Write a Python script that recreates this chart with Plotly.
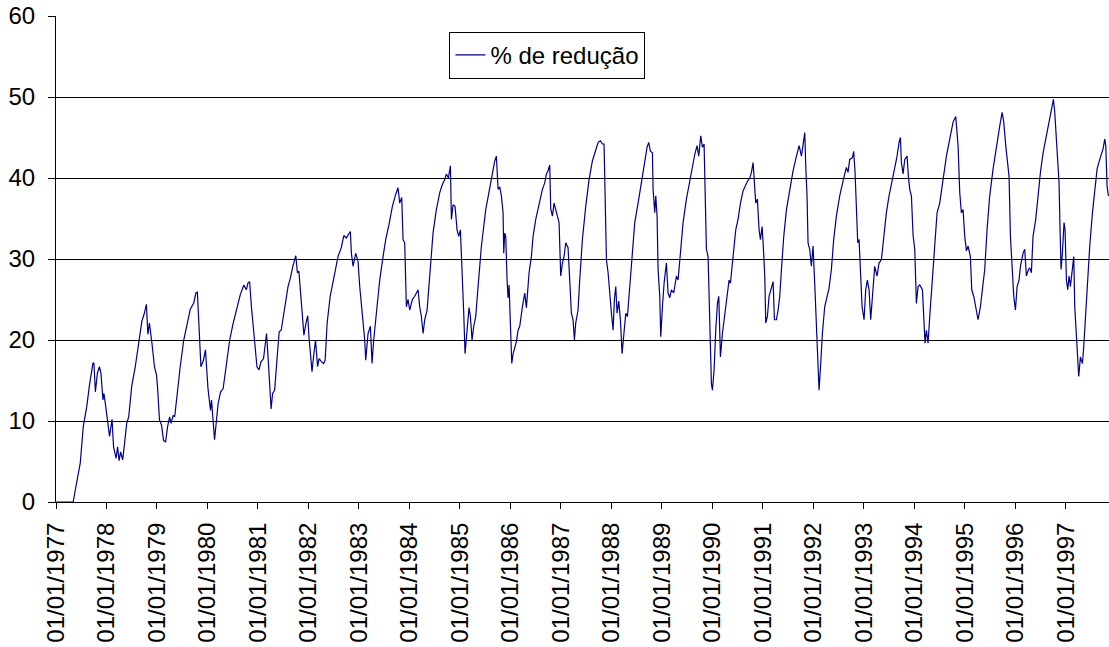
import pandas as pd
import plotly.graph_objects as go

# Series "% de redução": decimal years and values, by period
anos_77_79 = [
    1977.00, 1977.34, 1977.40, 1977.48, 1977.54, 1977.61, 1977.66, 1977.73, 1977.75, 1977.78,
    1977.82, 1977.86, 1977.89, 1977.93, 1977.95, 1977.99, 1978.02, 1978.06, 1978.11, 1978.14,
    1978.19, 1978.22, 1978.25, 1978.28, 1978.32, 1978.35, 1978.40, 1978.44, 1978.50, 1978.57,
    1978.64, 1978.70, 1978.75, 1978.79, 1978.82, 1978.85, 1978.90, 1978.95, 1978.99, 1979.01,
    1979.05, 1979.09, 1979.13, 1979.17, 1979.21, 1979.25, 1979.28, 1979.32, 1979.35, 1979.40,
    1979.46, 1979.53, 1979.60, 1979.66, 1979.73, 1979.77, 1979.80, 1979.83, 1979.87, 1979.92,
    1979.96,
]
valores_77_79 = [
    0.0, 0.0, 2.1, 4.8, 9.3, 11.8, 14.3, 17.1, 17.2, 13.6,
    15.9, 16.7, 15.9, 12.6, 13.4, 11.8, 10.1, 8.1, 10.2, 6.8,
    5.4, 6.8, 5.1, 6.2, 5.2, 6.8, 9.7, 10.5, 14.3, 16.7,
    19.8, 22.3, 23.3, 24.4, 20.7, 22.1, 19.6, 16.7, 15.7, 14.3,
    10.1, 9.5, 7.6, 7.4, 9.3, 10.5, 9.7, 10.7, 10.5, 13.4,
    16.7, 20.0, 22.1, 23.8, 24.6, 25.8, 25.9, 21.3, 16.7, 17.5,
    18.8,
]

anos_80_82 = [
    1980.01, 1980.06, 1980.08, 1980.14, 1980.21, 1980.26, 1980.31, 1980.36, 1980.44, 1980.51,
    1980.585, 1980.65, 1980.72, 1980.77, 1980.80, 1980.835, 1980.87, 1980.90, 1980.935, 1980.98,
    1981.02, 1981.06, 1981.11, 1981.15, 1981.17, 1981.20, 1981.23, 1981.26, 1981.29, 1981.33,
    1981.38, 1981.42, 1981.46, 1981.53, 1981.595, 1981.64, 1981.69, 1981.75, 1981.78, 1981.81,
    1981.84, 1981.87, 1981.91, 1981.945, 1981.985, 1982.01, 1982.045, 1982.07, 1982.10, 1982.14,
    1982.18, 1982.21, 1982.26, 1982.30, 1982.33, 1982.37, 1982.43, 1982.49, 1982.54, 1982.585,
    1982.65, 1982.70, 1982.75, 1982.79, 1982.83,
]
valores_80_82 = [
    14.0, 11.3, 12.6, 7.7, 12.1, 13.6, 14.0, 16.3, 20.0, 22.1,
    24.1, 25.6, 26.8, 26.2, 27.0, 27.2, 24.1, 21.9, 19.2, 16.7,
    16.3, 17.3, 17.7, 20.0, 20.8, 17.9, 15.0, 11.5, 13.4, 13.8,
    17.9, 21.0, 21.2, 24.1, 26.6, 27.6, 29.1, 30.4, 28.3, 28.5,
    26.2, 23.1, 20.6, 21.9, 23.0, 20.4, 17.9, 16.1, 17.9, 20.0,
    16.7, 17.7, 17.3, 17.1, 17.5, 22.1, 25.4, 27.4, 28.9, 30.3,
    31.4, 32.9, 32.6, 33.0, 33.4,
]

anos_83_85 = [
    1982.85, 1982.883, 1982.936, 1982.982, 1983.015, 1983.068, 1983.114, 1983.134, 1983.18, 1983.226,
    1983.259, 1983.292, 1983.345, 1983.411, 1983.477, 1983.53, 1983.596, 1983.662, 1983.728, 1983.774,
    1983.807, 1983.847, 1983.873, 1983.906, 1983.939, 1983.972, 1984.005, 1984.058, 1984.104, 1984.17,
    1984.203, 1984.236, 1984.27, 1984.302, 1984.349, 1984.401, 1984.467, 1984.533, 1984.60, 1984.652,
    1984.699, 1984.731, 1984.771, 1984.811, 1984.831, 1984.864, 1984.903, 1984.943, 1984.976, 1985.009,
    1985.035, 1985.075, 1985.101, 1985.141, 1985.18, 1985.207, 1985.24, 1985.273, 1985.313, 1985.359,
    1985.425, 1985.511, 1985.577, 1985.643, 1985.689, 1985.722, 1985.755, 1985.788,
]
valores_83_85 = [
    30.7, 29.1, 30.7, 29.7, 26.6, 23.3, 20.0, 17.5, 20.8, 21.7,
    17.1, 20.0, 23.3, 27.4, 30.3, 32.4, 34.3, 36.5, 38.0, 38.8,
    36.9, 37.6, 32.4, 32.0, 24.1, 25.0, 23.7, 25.0, 25.4, 26.2,
    24.1, 22.9, 20.8, 22.5, 23.7, 27.9, 33.2, 36.1, 38.2, 39.2,
    39.8, 40.5, 40.0, 41.5, 34.9, 36.7, 36.5, 33.6, 32.8, 33.6,
    29.9, 23.3, 18.3, 21.7, 24.0, 22.9, 20.0, 21.7, 22.9, 26.6,
    31.6, 36.1, 38.4, 40.7, 42.1, 42.7, 38.6, 38.9,
]

anos_86_88 = [
    1985.821, 1985.854, 1985.867, 1985.887, 1985.907, 1985.933, 1985.953, 1985.973, 1985.999, 1986.026,
    1986.052, 1986.085, 1986.118, 1986.151, 1986.184, 1986.237, 1986.283, 1986.316, 1986.369, 1986.415,
    1986.448, 1986.501, 1986.567, 1986.633, 1986.679, 1986.712, 1986.745, 1986.778, 1986.798, 1986.831,
    1986.864, 1986.897, 1986.924, 1986.963, 1986.996, 1987.029, 1987.062, 1987.095, 1987.141, 1987.174,
    1987.207, 1987.24, 1987.267, 1987.293, 1987.339, 1987.372, 1987.425, 1987.491, 1987.557, 1987.623,
    1987.689, 1987.736, 1987.782, 1987.821, 1987.854, 1987.874, 1987.901, 1987.934, 1987.967, 1988.0,
    1988.033, 1988.059, 1988.086, 1988.112, 1988.145, 1988.178, 1988.211, 1988.244, 1988.284, 1988.317,
    1988.363, 1988.416, 1988.462, 1988.528, 1988.594, 1988.66, 1988.706, 1988.739, 1988.772, 1988.812,
    1988.825, 1988.858,
]
valores_86_88 = [
    37.8, 35.7, 30.7, 33.2, 32.8, 27.4, 25.2, 26.8, 20.8, 17.1,
    18.3, 19.2, 19.8, 21.2, 21.7, 24.1, 25.8, 24.0, 28.3, 30.3,
    32.8, 34.9, 36.7, 38.6, 39.4, 40.5, 40.9, 41.6, 36.2, 35.3,
    36.9, 36.1, 35.1, 34.5, 27.9, 29.5, 30.3, 32.0, 31.4, 27.4,
    23.3, 22.5, 20.0, 22.1, 23.7, 27.4, 32.4, 36.5, 39.8, 42.1,
    43.6, 44.4, 44.6, 44.2, 44.2, 39.4, 29.9, 28.3, 25.4, 23.3,
    21.2, 25.0, 26.6, 23.3, 24.8, 22.5, 18.3, 20.8, 23.3, 22.9,
    26.6, 30.7, 34.5, 36.9, 39.4, 41.9, 43.8, 44.4, 43.3, 43.1,
    38.6, 35.7,
]

anos_89_91 = [
    1988.878, 1988.904, 1988.924, 1988.957, 1988.977, 1989.01, 1989.043, 1989.089, 1989.122, 1989.155,
    1989.188, 1989.234, 1989.287, 1989.32, 1989.366, 1989.419, 1989.485, 1989.551, 1989.604, 1989.65,
    1989.696, 1989.729, 1989.769, 1989.802, 1989.835, 1989.855, 1989.881, 1989.914, 1989.947, 1989.98,
    1990.0, 1990.033, 1990.066, 1990.099, 1990.126, 1990.159, 1990.198, 1990.244, 1990.291, 1990.33,
    1990.357, 1990.409, 1990.462, 1990.508, 1990.555, 1990.607, 1990.654, 1990.693, 1990.74, 1990.773,
    1990.806, 1990.825, 1990.858, 1990.891, 1990.924, 1990.951, 1990.984, 1991.004, 1991.037, 1991.056,
    1991.089, 1991.122, 1991.169, 1991.202, 1991.228, 1991.268, 1991.301, 1991.334, 1991.367, 1991.413,
    1991.466, 1991.532, 1991.598, 1991.664, 1991.717, 1991.763, 1991.796, 1991.829,
]
valores_89_91 = [
    37.8, 35.3, 28.7, 25.4, 20.4, 24.1, 27.0, 29.5, 25.8, 25.2,
    26.2, 25.8, 27.9, 27.4, 30.7, 34.5, 37.4, 39.8, 41.5, 42.9,
    44.0, 42.7, 45.2, 43.8, 44.2, 39.4, 31.2, 30.3, 22.9, 14.6,
    13.8, 16.3, 21.2, 24.5, 25.4, 17.9, 20.8, 23.3, 25.4, 27.4,
    27.0, 30.3, 33.6, 34.9, 36.9, 38.4, 39.2, 39.6, 40.0, 40.7,
    41.9, 39.8, 36.9, 37.4, 33.6, 32.4, 34.0, 32.0, 27.9, 22.1,
    22.9, 25.4, 26.4, 27.2, 22.5, 22.5, 23.7, 25.4, 28.7, 32.8,
    36.1, 38.6, 40.9, 42.7, 44.0, 42.7, 44.2, 45.6,
]

anos_92_94 = [
    1991.848, 1991.874, 1991.894, 1991.927, 1991.96, 1991.993, 1992.026, 1992.059, 1992.092, 1992.112,
    1992.145, 1992.178, 1992.224, 1992.270, 1992.31, 1992.356, 1992.402, 1992.455, 1992.521, 1992.587,
    1992.653, 1992.686, 1992.719, 1992.772, 1992.798, 1992.825, 1992.851, 1992.878, 1992.904, 1992.937,
    1992.964, 1993.003, 1993.036, 1993.069, 1993.102, 1993.135, 1993.168, 1993.214, 1993.261, 1993.3,
    1993.346, 1993.393, 1993.445, 1993.498, 1993.551, 1993.611, 1993.657, 1993.696, 1993.723, 1993.743,
    1993.776, 1993.809, 1993.855, 1993.881, 1993.908, 1993.941, 1993.974, 1994.007, 1994.04, 1994.073,
    1994.106, 1994.159, 1994.185, 1994.211, 1994.238, 1994.271, 1994.304, 1994.357, 1994.403, 1994.449,
    1994.502, 1994.568, 1994.634, 1994.70,
]
valores_92_94 = [
    41.5, 37.8, 32.0, 31.2, 29.1, 31.6, 27.0, 22.1, 16.7, 13.8,
    17.1, 20.8, 24.1, 25.4, 26.4, 28.7, 32.4, 35.3, 37.8, 39.6,
    41.3, 40.7, 42.3, 42.5, 43.3, 40.7, 36.1, 32.0, 32.4, 27.9,
    24.1, 22.5, 26.2, 27.4, 26.2, 22.5, 25.8, 29.1, 27.9, 29.5,
    29.9, 32.8, 35.7, 37.8, 39.4, 41.1, 42.7, 44.4, 45.0, 41.9,
    40.5, 42.3, 42.7, 40.2, 38.6, 37.8, 32.9, 31.2, 24.5, 26.6,
    26.8, 26.2, 22.1, 19.6, 21.2, 19.6, 22.9, 27.9, 32.4, 35.7,
    36.9, 40.0, 42.7, 44.8,
]

anos_95_97 = [
    1994.733, 1994.766, 1994.819, 1994.845, 1994.865, 1994.898, 1994.931, 1994.964, 1994.997, 1995.03,
    1995.063, 1995.109, 1995.136, 1995.175, 1995.215, 1995.261, 1995.307, 1995.36, 1995.393, 1995.439,
    1995.492, 1995.558, 1995.624, 1995.69, 1995.737, 1995.77, 1995.809, 1995.836, 1995.875, 1995.902,
    1995.928, 1995.968, 1996.001, 1996.034, 1996.073, 1996.1, 1996.152, 1996.185, 1996.218, 1996.258,
    1996.284, 1996.317, 1996.35, 1996.403, 1996.45, 1996.496, 1996.549, 1996.601, 1996.648, 1996.681,
    1996.714, 1996.753, 1996.78, 1996.813, 1996.846, 1996.865, 1996.885, 1996.905, 1996.931, 1996.964,
    1996.984, 1997.011, 1997.037, 1997.064, 1997.09, 1997.123, 1997.156, 1997.176, 1997.209, 1997.235,
    1997.255, 1997.288, 1997.328, 1997.354, 1997.387, 1997.427, 1997.473, 1997.526, 1997.572, 1997.618,
    1997.671, 1997.704, 1997.737, 1997.77, 1997.79, 1997.816, 1997.843,
]
valores_95_97 = [
    46.0, 46.9, 47.6, 46.0, 44.0, 38.2, 35.7, 36.1, 32.8, 31.0,
    31.6, 30.3, 26.2, 25.4, 24.1, 22.5, 24.1, 26.6, 28.7, 33.6,
    37.8, 41.1, 44.0, 46.4, 48.1, 46.9, 44.0, 42.3, 40.2, 32.8,
    29.1, 25.4, 23.7, 26.6, 27.4, 29.1, 30.7, 31.2, 27.9, 28.7,
    28.9, 28.3, 32.8, 34.9, 37.8, 40.7, 43.1, 44.8, 46.4, 47.7,
    48.7, 49.7, 48.1, 45.2, 41.9, 39.4, 33.6, 28.7, 30.7, 34.5,
    33.6, 27.4, 26.2, 27.9, 26.6, 28.3, 30.3, 24.1, 20.8, 17.1,
    15.5, 17.9, 17.1, 19.2, 22.5, 27.4, 31.6, 35.7, 38.6, 41.1,
    42.3, 43.1, 43.6, 44.8, 44.0, 39.0, 37.8,
]

anos_todos = anos_77_79 + anos_80_82 + anos_83_85 + anos_86_88 + anos_89_91 + anos_92_94 + anos_95_97
valores = (valores_77_79 + valores_80_82 + valores_83_85 + valores_86_88
           + valores_89_91 + valores_92_94 + valores_95_97)

inicio = pd.Timestamp("1977-01-01")
datas = [inicio + pd.to_timedelta((a - 1977.0) * 365.25, unit="D") for a in anos_todos]

tick_anos = list(range(1977, 1998))
tick_vals = [pd.Timestamp(f"{a}-01-01") for a in tick_anos]
tick_text = [f"01/01/{a}" for a in tick_anos]

FONT = "Liberation Sans, Arial, sans-serif"

fig = go.Figure()
fig.add_trace(go.Scatter(
    x=datas, y=valores, mode="lines", name="% de redução",
    line=dict(color="#000080", width=1.2),
))

fig.update_layout(
    width=1109, height=647,
    margin=dict(l=56, r=0, t=16, b=145, autoexpand=False),
    paper_bgcolor="white", plot_bgcolor="white",
    font=dict(family=FONT, size=24, color="black"),
    showlegend=True,
    legend=dict(
        x=0.3736, y=0.9677, xanchor="left", yanchor="top",
        bgcolor="white", bordercolor="black", borderwidth=1,
        font=dict(family=FONT, size=24, color="black"),
        itemwidth=30, tracegroupgap=0,
    ),
)

fig.update_xaxes(
    type="date",
    range=[pd.Timestamp("1977-01-01"), pd.Timestamp("1997-11-09")],
    tickmode="array", tickvals=tick_vals, ticktext=tick_text,
    tickangle=-90, ticks="outside", ticklen=6, tickcolor="black",
    showline=True, linecolor="black", linewidth=1,
    showgrid=False, zeroline=False,
    tickfont=dict(family=FONT, size=24, color="black"),
    automargin=False, ticklabelstandoff=4,
)
fig.update_yaxes(
    range=[0, 60], dtick=10, tick0=0,
    ticks="outside", ticklen=7, tickcolor="black",
    showline=True, linecolor="black", linewidth=1,
    showgrid=True, gridcolor="black", gridwidth=1,
    zeroline=False,
    tickfont=dict(family=FONT, size=24, color="black"),
    automargin=False, ticklabelstandoff=8,
)

fig.write_html("out.html")
